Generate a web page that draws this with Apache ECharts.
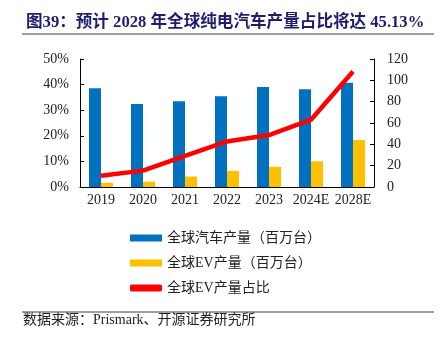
<!DOCTYPE html>
<html><head><meta charset="utf-8">
<script src="https://cdn.jsdelivr.net/npm/echarts@6/dist/echarts.min.js"></script>
<style>html,body{margin:0;padding:0;background:#fff}#c{width:444px;height:345px}</style>
</head><body><div id="c"></div>
<script>
const categories = ['2019','2020','2021','2022','2023','2024E','2028E'];
const carProduction = [92.5, 77.8, 80.3, 85.0, 93.7, 91.6, 97.8];
const evProduction = [4.0, 5.0, 9.8, 15.1, 19.0, 24.1, 44.1];
const evShare = [4.4, 6.4, 12.2, 17.8, 20.3, 26.3, 45.13];
const leftTicks = [0, 10, 20, 30, 40, 50];
const rightTicks = [0, 20, 40, 60, 80, 100, 120];
const seriesNames = ['全球汽车产量（百万台）', '全球EV产量（百万台）', '全球EV产量占比'];

const serif = '"Liberation Serif","Times New Roman","Noto Sans CJK SC",serif';
const chart = echarts.init(document.getElementById('c'), null, {renderer: 'canvas'});
chart.setOption({
  animation: false,
  backgroundColor: '#fff',
  title: {
    text: '图39：预计 2028 年全球纯电汽车产量占比将达 45.13%',
    left: 21, top: 9,
    textStyle: {fontFamily: serif, fontSize: 16.6, fontWeight: 'bold', color: '#1f1c6b'}
  },
  graphic: [
    {type: 'line', shape: {x1: 22, y1: 34, x2: 434, y2: 34}, style: {stroke: '#7f7f7f', lineWidth: 1.5}},
    {type: 'line', shape: {x1: 22, y1: 312, x2: 434, y2: 312}, style: {stroke: '#7f7f7f', lineWidth: 1.5}},
    {type: 'text', left: 23, top: 313, style: {text: '数据来源：Prismark、开源证券研究所', font: '14px ' + serif, fill: '#222'}}
  ],
  legend: {
    orient: 'vertical', left: 125, top: 226, itemGap: 11,
    itemWidth: 32, itemHeight: 7,
    textStyle: {fontFamily: serif, fontSize: 14, color: '#222'},
    data: [
      {name: seriesNames[0], icon: 'rect'},
      {name: seriesNames[1], icon: 'rect'},
      {name: seriesNames[2], icon: 'roundRect'}
    ]
  },
  grid: {left: 80, right: 70, top: 59, bottom: 158, containLabel: false},
  xAxis: {
    type: 'category', data: categories,
    axisLine: {lineStyle: {color: '#000'}},
    axisTick: {inside: true, length: 4, lineStyle: {color: '#000'}},
    axisLabel: {interval: 0, fontFamily: serif, fontSize: 14, color: '#222', margin: 6}
  },
  yAxis: [
    {
      type: 'value', min: leftTicks[0], max: leftTicks[leftTicks.length - 1], interval: 10,
      axisLine: {show: true, lineStyle: {color: '#000'}},
      axisTick: {show: true, inside: true, length: 4, lineStyle: {color: '#000'}},
      splitLine: {show: false},
      axisLabel: {formatter: '{value}%', fontFamily: serif, fontSize: 14, color: '#222', margin: 11}
    },
    {
      type: 'value', min: rightTicks[0], max: rightTicks[rightTicks.length - 1], interval: 20,
      axisLine: {show: true, lineStyle: {color: '#000'}},
      axisTick: {show: true, inside: true, length: 4, lineStyle: {color: '#000'}},
      splitLine: {show: false},
      axisLabel: {fontFamily: serif, fontSize: 14, color: '#222', margin: 13}
    }
  ],
  series: [
    {name: seriesNames[0], type: 'bar', yAxisIndex: 1, data: carProduction, barWidth: 12, barGap: '0%', itemStyle: {color: '#0070C0'}},
    {name: seriesNames[1], type: 'bar', yAxisIndex: 1, data: evProduction, barWidth: 12, barGap: '0%', itemStyle: {color: '#FFC000'}},
    {name: seriesNames[2], type: 'line', yAxisIndex: 0, data: evShare, symbol: 'none', lineStyle: {color: '#FF0000', width: 4.5}, itemStyle: {color: '#FF0000'}}
  ]
});
</script></body></html>
